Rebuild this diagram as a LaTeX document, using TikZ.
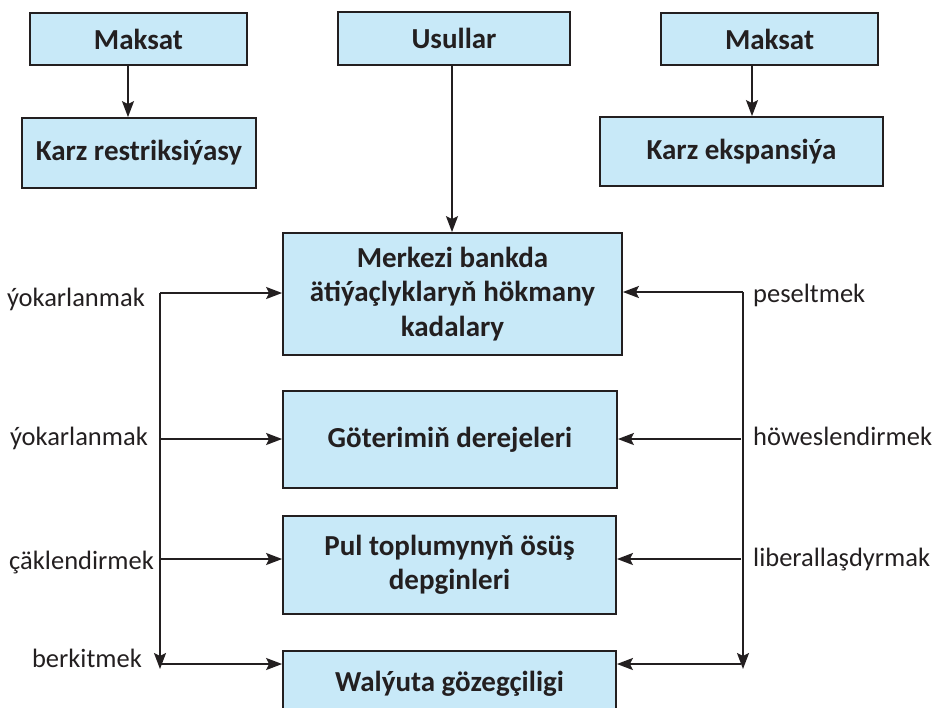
\documentclass[tikz,border=0pt]{standalone}
\usepackage{fontspec}
\setmainfont{Carlito}
\usetikzlibrary{arrows.meta}
\definecolor{boxfill}{RGB}{200,233,248}
\definecolor{ink}{RGB}{35,31,32}
\begin{document}
\begin{tikzpicture}[x=1pt,y=-1pt,
  box/.style={draw=ink, fill=boxfill, line width=1.8pt, inner sep=0pt, text=ink, align=center,
    font=\fontsize{29}{34.5}\selectfont\bfseries},
  lbl/.style={font=\fontsize{26.5}{30}\selectfont, text=ink, inner sep=0pt},
  arr/.style={draw=ink, line width=1.8pt, -{Stealth[length=16pt,width=12pt,inset=3pt]}}]
\clip (0,0) rectangle (933,707);
% boxes
\node[box, minimum width=217pt, minimum height=52pt] (m1) at (138.5,39) {Maksat};
\node[box, minimum width=234pt, minimum height=70pt] (k1) at (139,153) {Karz restriksiýasy};
\node[box, minimum width=232pt, minimum height=53pt] (u) at (454,38.5) {Usullar};
\node[box, minimum width=217pt, minimum height=52pt] (m2) at (769.5,39) {Maksat};
\node[box, minimum width=283pt, minimum height=69pt] (k2) at (741.5,151.5) {Karz ekspansiýa};
\node[box, minimum width=339pt, minimum height=122pt] (mk) at (452.5,294) {Merkezi bankda\\ätiýaçlyklaryň hökmany\\kadalary};
\node[box, minimum width=334pt, minimum height=97pt] (g) at (450,439.5) {Göterimiň derejeleri};
\node[box, minimum width=333pt, minimum height=98pt] (p) at (449.5,565) {Pul toplumynyň ösüş\\depginleri};
\node[box, minimum width=333pt, minimum height=66pt] (w) at (449.5,684) {Walýuta gözegçiligi};
% top arrows
\draw[arr] ([xshift=-10.5pt]m1.south) -- ([xshift=-10.5pt]m1.south |- k1.north);
\draw[arr] ([xshift=-2pt]u.south) -- ([xshift=-2pt]u.south |- mk.north);
\draw[arr] ([xshift=-17.5pt]m2.south) -- ([xshift=-17.5pt]m2.south |- k2.north);
% left labels
\node[lbl, anchor=base east] (a1) at (145,306) {ýokarlanmak};
\node[lbl, anchor=base east] (a2) at (148,445) {ýokarlanmak};
\node[lbl, anchor=base east] (a3) at (154,569) {çäklendirmek};
\node[lbl, anchor=base east] (a4) at (142,667) {berkitmek};
% right labels
\node[lbl, anchor=base west] (b1) at (753,302) {peseltmek};
\node[lbl, anchor=base west] (b2) at (753,445) {höweslendirmek};
\node[lbl, anchor=base west] (b3) at (753,566) {liberallaşdyrmak};
% left connectors
\coordinate (L1) at (160,293);
\coordinate (L2) at (160,439);
\coordinate (L3) at (160,559);
\coordinate (L4) at (160,664);
\coordinate (L5) at (160,669);
\draw[arr] (L1) -- (L5);
\draw[arr] (L1) -- (L1 -| mk.west);
\draw[arr] (L2) -- (L2 -| g.west);
\draw[arr] (L3) -- (L3 -| p.west);
\draw[arr] (L4) -- (L4 -| w.west);
% right connectors
\coordinate (R1) at (743,292);
\coordinate (R2) at (741,439);
\coordinate (R3) at (741,559);
\coordinate (R4) at (741,664);
\coordinate (R0) at (743,292);
\coordinate (R5) at (743,669);
\draw[arr] (R0) -- (R5);
\draw[arr] (R1) -- (R1 -| mk.east);
\draw[arr] (R2) -- (R2 -| g.east);
\draw[arr] (R3) -- (R3 -| p.east);
\draw[arr] (R4) -- (R4 -| w.east);
\end{tikzpicture}
\end{document}
